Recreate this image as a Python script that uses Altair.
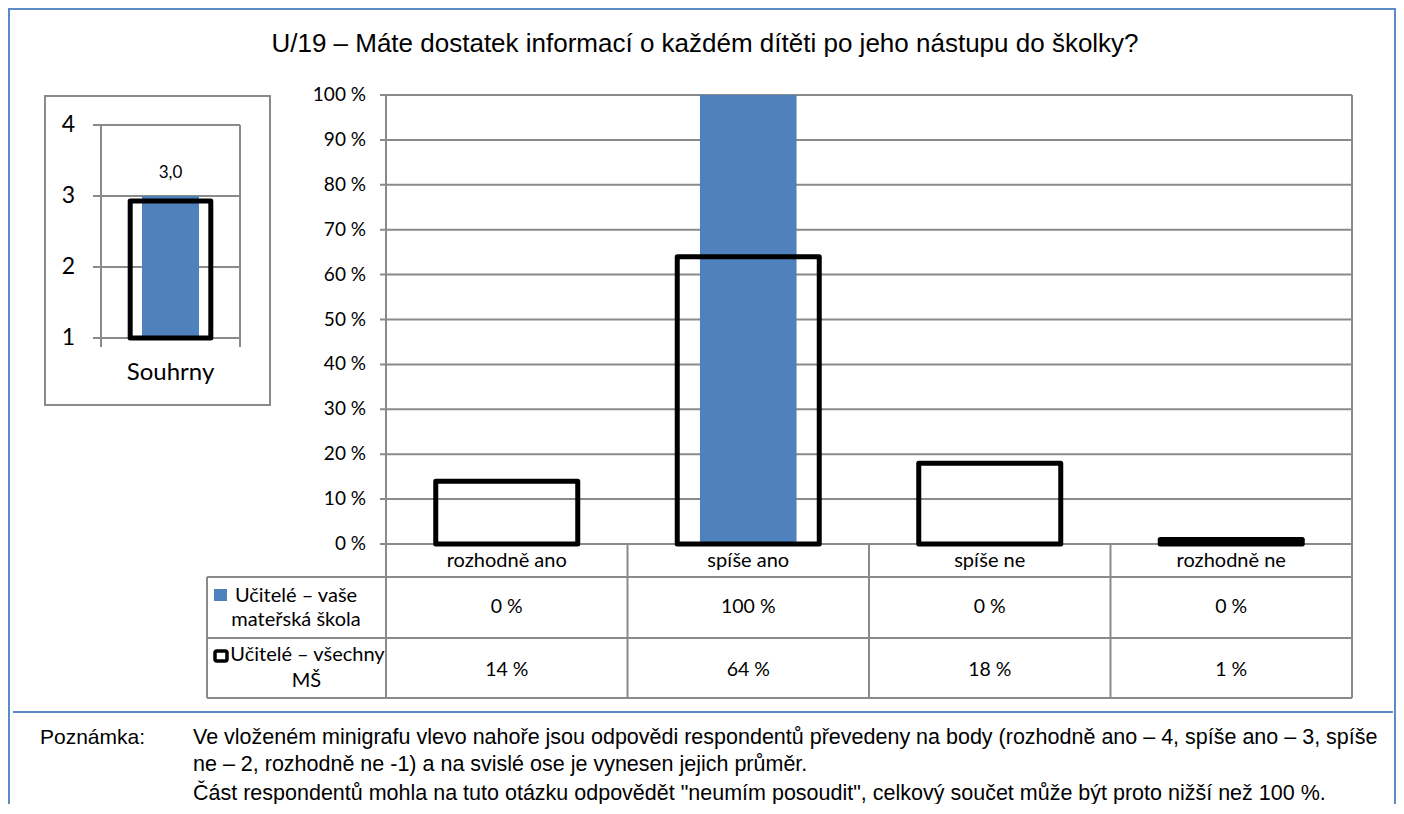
import altair as alt
import pandas as pd

# ---------------- data ----------------
categories = ["rozhodně ano", "spíše ano", "spíše ne", "rozhodně ne"]
school_pct = [0, 100, 0, 0]          # Učitelé – vaše mateřská škola
all_pct = [14, 64, 18, 1]            # Učitelé – všechny MŠ
y_ticks = [0, 10, 20, 30, 40, 50, 60, 70, 80, 90, 100]
y_tick_labels = ["0 %", "10 %", "20 %", "30 %", "40 %", "50 %", "60 %", "70 %", "80 %", "90 %", "100 %"]

mini_category = ["Souhrny"]
mini_school = [3.0]
mini_all = [2.93]
mini_ticks = [1, 2, 3, 4]
mini_tick_labels = ["1", "2", "3", "4"]

series_school = ["Učitelé – vaše", "mateřská škola"]
series_all = ["Učitelé – všechny", "MŠ"]

title_text = "U/19 – Máte dostatek informací o každém dítěti po jeho nástupu do školky?"
note_label = "Poznámka:"
note_lines = [
    "Ve vloženém minigrafu vlevo nahoře jsou odpovědi respondentů převedeny na body (rozhodně ano – 4, spíše ano – 3, spíše",
    "ne – 2, rozhodně ne -1) a na svislé ose je vynesen jejich průměr.",
    "Část respondentů mohla na tuto otázku odpovědět \"neumím posoudit\", celkový součet může být proto nižší než 100 %.",
]

# ---------------- tables ----------------
df_main = pd.DataFrame({
    "cat": categories,
    "school": school_pct,
    "all": all_pct,
    "school_lbl": [f"{v} %" for v in school_pct],
    "all_lbl": [f"{v} %" for v in all_pct],
})
df_ticks = pd.DataFrame({"t": y_ticks, "lbl": y_tick_labels})
df_mini = pd.DataFrame({
    "mcat": mini_category,
    "school": mini_school,
    "all": mini_all,
    "lbl": [f"{v:.1f}".replace(".", ",") for v in mini_school],
})
df_mini_ticks = pd.DataFrame({"t": mini_ticks, "lbl": mini_tick_labels})
df_one = pd.DataFrame({"k": [0]})
df_inner = df_main[df_main["cat"] != categories[0]]

# ---------------- style ----------------
W, H = 966, 449
GRAY = "#8a8a8a"
BLUE = "#4f81bd"
FRAME = "#5b8ac6"
CAL = "Lato"
ARIAL = "Liberation Sans"


def mx(**kw):
    return alt.X("cat:N", sort=categories,
                 scale=alt.Scale(domain=categories, paddingInner=0, paddingOuter=0),
                 axis=None, **kw)


def my(field):
    return alt.Y(field, type="quantitative",
                 scale=alt.Scale(domain=[0, 100], nice=False, zero=True), axis=None)


mini_xs = alt.Scale(domain=mini_category, range=[-285, -146], paddingInner=0, paddingOuter=0)
mini_ys = alt.Scale(domain=[1, 4], range=[243, 30], nice=False, zero=False)


def nx():
    return alt.X("mcat:N", scale=mini_xs, axis=None)


def ny(field):
    return alt.Y(field, type="quantitative", scale=mini_ys, axis=None)


def vrule(x, y, y2, color=GRAY, sw=2):
    return alt.Chart(df_one).mark_rule(color=color, strokeWidth=sw).encode(
        x=alt.value(x), y=alt.value(y), y2=alt.value(y2))


def hrule(y, x, x2, color=GRAY, sw=2):
    return alt.Chart(df_one).mark_rule(color=color, strokeWidth=sw).encode(
        y=alt.value(y), x=alt.value(x), x2=alt.value(x2))


def label(text, x, y, size, font=CAL, align="center", baseline="alphabetic"):
    return alt.Chart(df_one).mark_text(text=text, font=font, fontSize=size, align=align,
                                       baseline=baseline, color="black").encode(
        x=alt.value(x), y=alt.value(y))


layers = []

# outer frame and separator
layers.append(alt.Chart(df_one).mark_rect(fillOpacity=0, stroke=FRAME, strokeWidth=2).encode(
    x=alt.value(-377), x2=alt.value(1009), y=alt.value(-86), y2=alt.value(730)))
layers.append(hrule(617, -373, 1007, color=FRAME, sw=2))

# title
layers.append(label(title_text, 319, -43, 26, font=ARIAL))

# main gridlines + axis labels
layers.append(alt.Chart(df_ticks).mark_rule(color=GRAY, strokeWidth=2).encode(
    y=my("t"), x=alt.value(-6), x2=alt.value(W)))
layers.append(alt.Chart(df_ticks).mark_text(font=CAL, fontSize=19, align="right",
                                            baseline="middle", color="black").encode(
    y=my("t"), x=alt.value(-20), text="lbl:N"))

# plot / table borders
layers.append(vrule(0, 0, 603))
layers.append(vrule(W, 0, 603))
layers.append(vrule(-179, 482, 603))
layers.append(alt.Chart(df_inner).mark_rule(color=GRAY, strokeWidth=2).encode(
    x=mx(bandPosition=0), y=alt.value(H), y2=alt.value(603)))
layers.append(hrule(482, -179, W))
layers.append(hrule(543, -179, W))
layers.append(hrule(603, -179, W))

# bars
layers.append(alt.Chart(df_main).mark_bar(color=BLUE, width=alt.RelativeBandSize(0.40)).encode(
    x=mx(), y=my("school")))
layers.append(alt.Chart(df_main).mark_bar(fillOpacity=0, stroke="black", strokeWidth=5,
                                          strokeJoin="round",
                                          width=alt.RelativeBandSize(0.588)).encode(
    x=mx(), y=my("all")))

# table texts
layers.append(alt.Chart(df_main).mark_text(font=CAL, fontSize=20, baseline="alphabetic",
                                           color="black").encode(
    x=mx(), y=alt.value(472), text="cat:N"))
layers.append(alt.Chart(df_main).mark_text(font=CAL, fontSize=19.5, baseline="alphabetic",
                                           color="black").encode(
    x=mx(), y=alt.value(518), text="school_lbl:N"))
layers.append(alt.Chart(df_main).mark_text(font=CAL, fontSize=19.5, baseline="alphabetic",
                                           color="black").encode(
    x=mx(), y=alt.value(581), text="all_lbl:N"))

# row headers with legend keys
layers.append(alt.Chart(df_one).mark_rect(color=BLUE).encode(
    x=alt.value(-172), x2=alt.value(-159), y=alt.value(494), y2=alt.value(506)))
layers.append(alt.Chart(df_one).mark_rect(fill="white", stroke="black", strokeWidth=3.5,
                                          cornerRadius=2).encode(
    x=alt.value(-171), x2=alt.value(-159), y=alt.value(556), y2=alt.value(566)))
layers.append(label(series_school[0], -90, 507, 20))
layers.append(label(series_school[1], -90, 531, 20))
layers.append(label(series_all[0], -78.5, 566, 20))
layers.append(label(series_all[1], -79.5, 592, 20))

# ---------------- mini chart ----------------
layers.append(alt.Chart(df_one).mark_rect(fillOpacity=0, stroke=GRAY, strokeWidth=2).encode(
    x=alt.value(-341), x2=alt.value(-116), y=alt.value(1), y2=alt.value(310)))
layers.append(alt.Chart(df_mini_ticks).mark_rule(color=GRAY, strokeWidth=2).encode(
    y=ny("t"), x=alt.value(-293), x2=alt.value(-146)))
layers.append(alt.Chart(df_mini_ticks).mark_text(font=CAL, fontSize=23, align="right",
                                                 baseline="middle", color="black").encode(
    y=ny("t"), x=alt.value(-311), text="lbl:N"))
layers.append(vrule(-285, 30, 252))
layers.append(vrule(-146, 30, 252))
layers.append(alt.Chart(df_mini).mark_bar(color=BLUE, width=alt.RelativeBandSize(0.41)).encode(
    x=nx(), y=ny("school"), y2=alt.datum(1)))
layers.append(alt.Chart(df_mini).mark_bar(fillOpacity=0, stroke="black", strokeWidth=5,
                                          strokeJoin="round",
                                          width=alt.RelativeBandSize(0.58)).encode(
    x=nx(), y=ny("all"), y2=alt.datum(1)))
layers.append(alt.Chart(df_mini).mark_text(font=CAL, fontSize=17, baseline="middle", dy=-23,
                                           color="black").encode(
    x=nx(), y=ny("school"), text="lbl:N"))
layers.append(alt.Chart(df_mini).mark_text(font=CAL, fontSize=24, baseline="alphabetic",
                                           color="black").encode(
    x=nx(), y=alt.value(285), text="mcat:N"))

# ---------------- note ----------------
layers.append(label(note_label, -346, 649, 21, font=ARIAL, align="left"))
layers.append(label(note_lines[0], -193, 649, 21.5, font=ARIAL, align="left"))
layers.append(label(note_lines[1], -193, 676, 21.5, font=ARIAL, align="left"))
layers.append(label(note_lines[2], -193, 705, 21.5, font=ARIAL, align="left"))

chart = alt.layer(*layers).resolve_scale(x="independent", y="independent").properties(
    width=W, height=H,
    autosize=alt.AutoSizeParams(type="none"),
    padding={"left": 378, "top": 87, "right": 44, "bottom": 260},
    background="white",
).configure_view(strokeWidth=0)

chart.save("out.html", embed_options={"renderer": "svg", "actions": False})
